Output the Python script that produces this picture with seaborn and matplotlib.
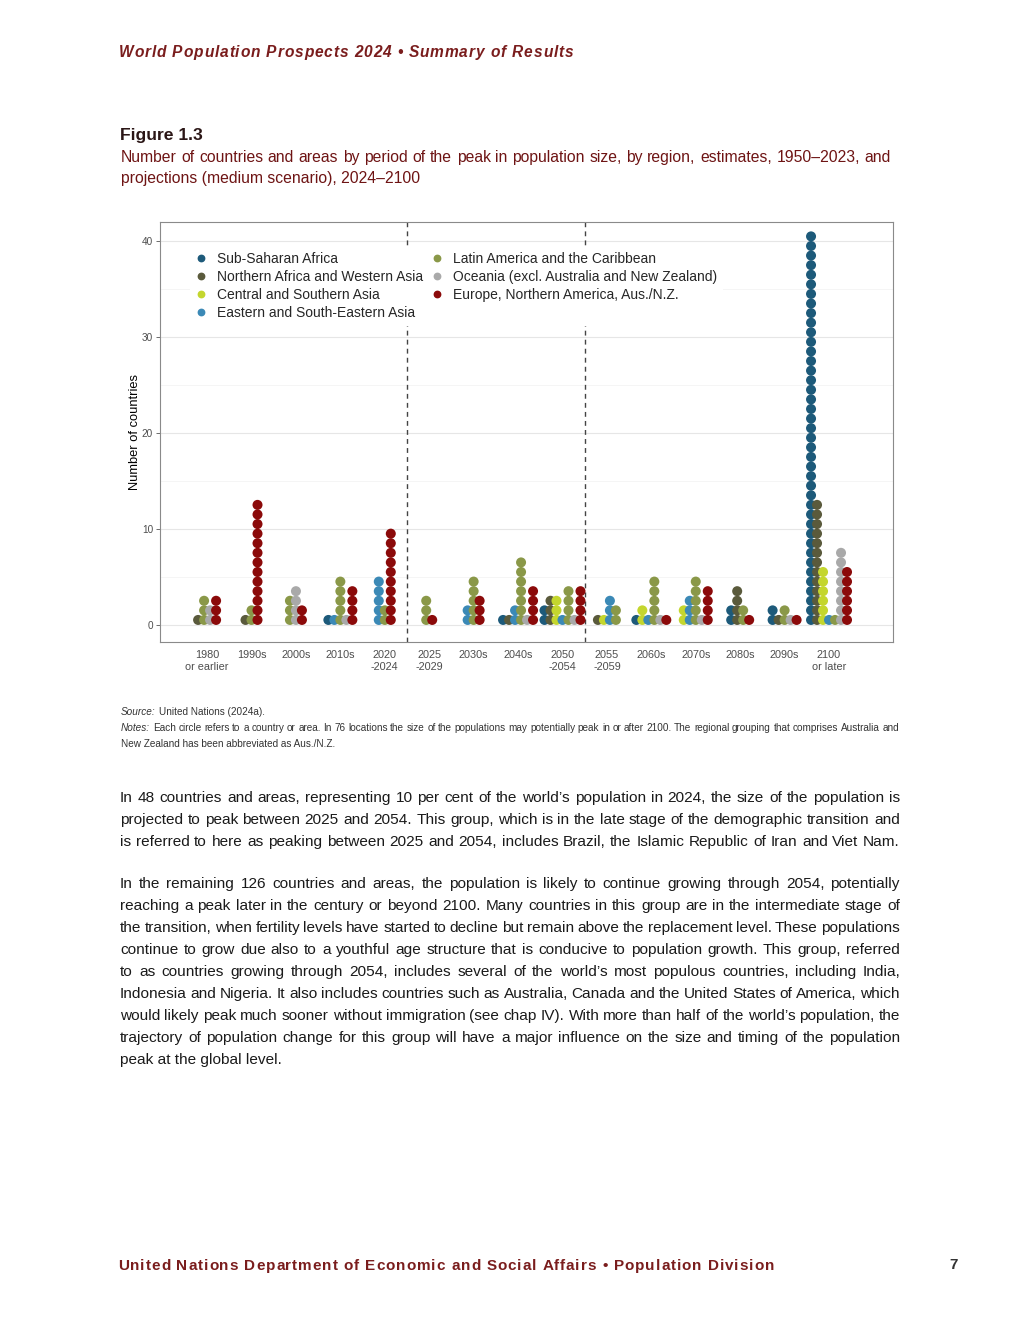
import matplotlib
matplotlib.use("Agg")
import matplotlib.pyplot as plt
import seaborn as sns
import pandas as pd
from matplotlib import font_manager
from matplotlib.lines import Line2D

# ---------------- data ----------------
periods = ["1980\nor earlier", "1990s", "2000s", "2010s", "2020\n-2024", "2025\n-2029",
           "2030s", "2040s", "2050\n-2054", "2055\n-2059", "2060s", "2070s", "2080s",
           "2090s", "2100\nor later"]
regions = ["Sub-Saharan Africa", "Northern Africa and Western Asia", "Central and Southern Asia",
           "Eastern and South-Eastern Asia", "Latin America and the Caribbean",
           "Oceania (excl. Australia and New Zealand)", "Europe, Northern America, Aus./N.Z."]
ssa     = [0, 0, 0, 1, 0, 0, 0, 1, 2, 0, 1, 0, 2, 2, 41]
nawa    = [1, 1, 0, 0, 0, 0, 0, 1, 3, 1, 0, 0, 4, 1, 13]
csa     = [0, 0, 0, 0, 0, 0, 0, 0, 3, 1, 2, 2, 0, 0, 6]
esea    = [0, 0, 0, 1, 5, 0, 2, 2, 1, 3, 1, 3, 0, 0, 1]
lac     = [3, 2, 3, 5, 2, 3, 5, 7, 4, 2, 5, 5, 2, 2, 1]
oceania = [2, 0, 4, 1, 0, 0, 0, 1, 1, 0, 1, 1, 0, 1, 8]
europe  = [3, 13, 2, 4, 10, 1, 3, 4, 4, 0, 1, 4, 1, 1, 6]
counts = dict(zip(regions, [ssa, nawa, csa, esea, lac, oceania, europe]))
colors = ["#1d5a7a", "#5a5a3c", "#c4d62e", "#3b89b6", "#8a9848", "#a9a9a9", "#8b0a0a"]
palette = dict(zip(regions, colors))

# ---------------- build dot table (dodged columns, stacked dots) ----------------
STEP = 0.135
rows = []
for i in range(len(periods)):
    present = [r for r in regions if counts[r][i] > 0]
    n = len(present)
    for k, r in enumerate(present):
        off = (k - (n - 1) / 2) * STEP
        for j in range(counts[r][i]):
            rows.append(dict(region=r, x=i + off, y=j + 0.5))
df = pd.DataFrame(rows)

# ---------------- fonts ----------------
sns.set_theme(style="white")
names = {f.name for f in font_manager.fontManager.ttflist}
narrow = "Liberation Sans Narrow" if "Liberation Sans Narrow" in names else "Liberation Sans"
plt.rcParams["font.family"] = ["Liberation Sans", "DejaVu Sans"]

W, H = 1020, 1320
fig = plt.figure(figsize=(W / 100, H / 100), dpi=100)
fig.patch.set_facecolor("white")
renderer = fig.canvas.get_renderer()

def fx(x):
    return x / W

def fy(y):
    return 1 - y / H

# ---------------- chart ----------------
ax = fig.add_axes([fx(160), fy(642), 733 / W, 420 / H])
sns.scatterplot(data=df, x="x", y="y", hue="region", hue_order=regions, palette=palette,
                s=52, linewidth=0, alpha=1, ax=ax, legend=False, zorder=3)
ax.set_xlim(-1.06, 15.44)
ax.set_ylim(-1.8, 42)
ax.set_xticks(range(len(periods)))
ax.set_xticklabels(periods, fontsize=7.8, color="#4d4d4d", linespacing=1.15)
ax.set_yticks([0, 10, 20, 30, 40])
ax.set_yticks([5, 15, 25, 35], minor=True)
ax.tick_params(axis="y", which="major", labelsize=7.2, labelcolor="#4d4d4d", length=3,
               width=0.6, color="#555555", pad=2, left=True)
ax.tick_params(axis="y", which="minor", length=0)
ax.tick_params(axis="x", length=0, pad=6)
ax.grid(axis="y", which="major", color="#e6e6e6", linewidth=0.8)
ax.grid(axis="y", which="minor", color="#f2f2f2", linewidth=0.5)
ax.grid(axis="x", visible=False)
ax.set_axisbelow(True)
for sp in ax.spines.values():
    sp.set_visible(True)
    sp.set_color("#8a8a8a")
    sp.set_linewidth(0.8)
ax.set_xlabel("")
ax.set_ylabel("Number of countries", fontsize=9.3, color="black")
ax.yaxis.set_label_coords((141 - 160) / 733, 0.5)
for xv in (4.5, 8.5):
    ax.axvline(xv, ymin=0, ymax=1.0, color="#444444", linewidth=1.0,
               linestyle=(0, (3.5, 3)), zorder=2)

handles = [Line2D([0], [0], marker="o", linestyle="", color=c, markersize=4.6) for c in colors]
leg = ax.legend(handles, regions, ncol=2, loc="upper left", bbox_to_anchor=(fx(190), fy(246)),
                bbox_transform=fig.transFigure, frameon=True, fontsize=10.0, handlelength=0.8,
                handletextpad=0.75, columnspacing=0.6, labelspacing=0.3, borderpad=0.4,
                borderaxespad=0, fancybox=False)
leg.get_frame().set_facecolor("white")
leg.get_frame().set_edgecolor("none")
leg.get_frame().set_alpha(1)

# ---------------- text helpers ----------------
def tw(s, **kw):
    t = fig.text(0, 0, s, **kw)
    w = t.get_window_extent(renderer).width
    t.remove()
    return w

def tracked(x0, x1, y, s, **kw):
    ref = "H"
    wr = tw(ref, **kw)
    pos = [tw(s[:k] + ref, **kw) - wr if k > 0 else 0.0 for k in range(len(s))]
    natural = tw(s, **kw)
    extra = (x1 - x0 - natural) / max(len(s) - 1, 1)
    for k, c in enumerate(s):
        if c != " ":
            fig.text(fx(x0 + pos[k] + k * extra), fy(y), c, ha="left", va="baseline", **kw)

def justified(x0, x1, y, line, last=False, **kw):
    words = line.split(" ")
    if last or len(words) == 1:
        fig.text(fx(x0), fy(y), line, ha="left", va="baseline", **kw)
        return
    widths = [tw(w, **kw) for w in words]
    gap = (x1 - x0 - sum(widths)) / (len(words) - 1)
    x = x0
    for w, wd in zip(words, widths):
        fig.text(fx(x), fy(y), w, ha="left", va="baseline", **kw)
        x += wd + gap

def fit_size(lines, target, size, **kw):
    while size > 5 and max(tw(l, fontsize=size, **kw) for l in lines) > target:
        size -= 0.1
    return size

RED = "#7a1d1d"

# header
tracked(119, 573, 57, "World Population Prospects 2024 \u2022 Summary of Results",
        fontsize=11.2, fontweight="bold", fontstyle="italic", color=RED,
        family=["Liberation Sans", "DejaVu Sans"])

# figure title
fig.text(fx(120), fy(140), "Figure 1.3", ha="left", va="baseline", fontsize=12.6,
         fontweight="bold", color="#2b1616")
sub1 = "Number of countries and areas by period of the peak in population size, by region, estimates, 1950\u20132023, and"
sub2 = "projections (medium scenario), 2024\u20132100"
skw = dict(color="#6e1414", family=[narrow, "DejaVu Sans"])
ssz = fit_size([sub1], 770, 12.8, **skw)
justified(121, 891, 162, sub1, fontsize=ssz, **skw)
justified(121, 891, 183, sub2, last=True, fontsize=ssz, **skw)

# source & notes
nkw = dict(fontsize=7.2, color="#333333", family=[narrow, "DejaVu Sans"])
ikw = dict(nkw, fontstyle="italic")
fig.text(fx(121), fy(715), "Source:", ha="left", va="baseline", **ikw)
justified(121 + tw("Source:", **ikw) + 3, 899, 715, "United Nations (2024a).", last=True, **nkw)
fig.text(fx(121), fy(731), "Notes:", ha="left", va="baseline", **ikw)
justified(121 + tw("Notes:", **ikw) + 3, 899, 731,
          "Each circle refers to a country or area. In 76 locations the size of the populations may potentially peak in or after 2100. The regional grouping that comprises Australia and",
          **nkw)
justified(121, 899, 747, "New Zealand has been abbreviated as Aus./N.Z.", last=True, **nkw)

# body paragraphs
para1 = [
    "In 48 countries and areas, representing 10 per cent of the world\u2019s population in 2024, the size of the population is",
    "projected to peak between 2025 and 2054. This group, which is in the late stage of the demographic transition and",
    "is referred to here as peaking between 2025 and 2054, includes Brazil, the Islamic Republic of Iran and Viet Nam.",
]
para2 = [
    "In the remaining 126 countries and areas, the population is likely to continue growing through 2054, potentially",
    "reaching a peak later in the century or beyond 2100. Many countries in this group are in the intermediate stage of",
    "the transition, when fertility levels have started to decline but remain above the replacement level. These populations",
    "continue to grow due also to a youthful age structure that is conducive to population growth. This group, referred",
    "to as countries growing through 2054, includes several of the world\u2019s most populous countries, including India,",
    "Indonesia and Nigeria. It also includes countries such as Australia, Canada and the United States of America, which",
    "would likely peak much sooner without immigration (see chap IV). With more than half of the world\u2019s population, the",
    "trajectory of population change for this group will have a major influence on the size and timing of the population",
    "peak at the global level.",
]
bfam = dict(color="#1a1a1a", family=[narrow, "DejaVu Sans"])
bsz = fit_size(para1 + para2, 796, 11.8, **bfam)
bkw = dict(bfam, fontsize=bsz)
for k, line in enumerate(para1):
    justified(120, 900, 802 + 22 * k, line, last=False, **bkw)
for k, line in enumerate(para2):
    justified(120, 900, 888 + 22 * k, line, last=(k == len(para2) - 1), **bkw)

# footer
tracked(118, 774, 1270, "United Nations Department of Economic and Social Affairs \u2022 Population Division",
        fontsize=11.0, fontweight="bold", color=RED, family=["Liberation Sans", "DejaVu Sans"])
fig.text(fx(954), fy(1269), "7", ha="center", va="baseline", fontsize=11.0, fontweight="bold",
         color="#333333")

fig.savefig("out.png", dpi=100, facecolor="white")
